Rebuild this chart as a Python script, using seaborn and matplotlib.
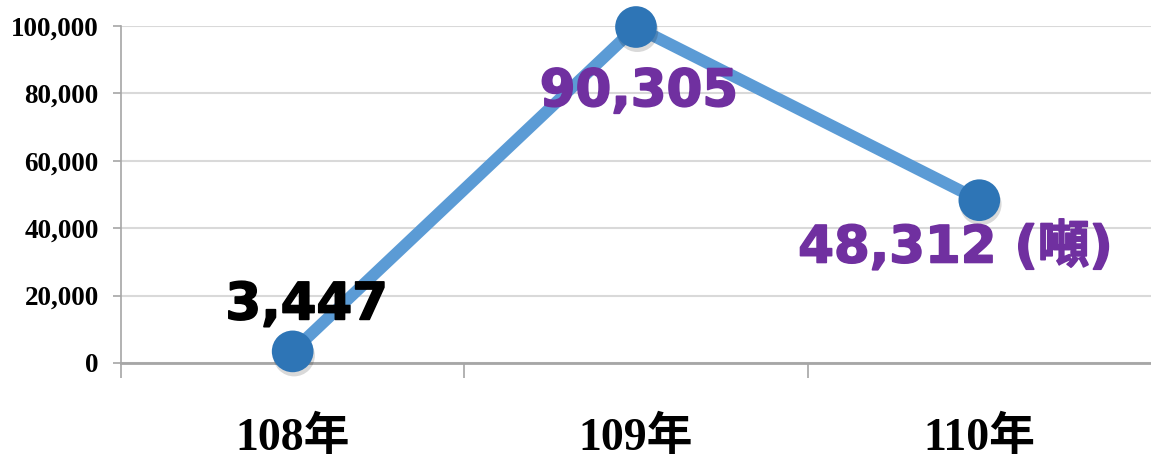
import matplotlib
matplotlib.use("Agg")
import matplotlib.pyplot as plt
import matplotlib.patheffects as pe
import pandas as pd
import seaborn as sns

# values as drawn in the picture (109 point sits near the top of the axis)
years = ["108年", "109年", "110年"]
tons = [3447, 99700, 48312]
labels = ["3,447", "90,305", "48,312 (噸)"]
label_colors = ["#000000", "#7030A0", "#7030A0"]
label_offsets = [(14, 46), (3, -65), (-24, -48)]  # pixels from point

yticks = [0, 20000, 40000, 60000, 80000, 100000]

df = pd.DataFrame({"year": years, "tons": tons})

sns.set_theme(style="white")
plt.rcParams["font.family"] = ["DejaVu Sans", "Noto Sans CJK TC"]

fig = plt.figure(figsize=(11.51, 4.59), dpi=100)
ax = fig.add_axes([121 / 1151, 1 - 363 / 459, 1 - 121 / 1151, 337 / 459])

sns.lineplot(data=df, x="year", y="tons", ax=ax, color="#5B9BD5",
             linewidth=8.6, solid_capstyle="butt", zorder=3)
pts = sns.scatterplot(data=df, x="year", y="tons", ax=ax, s=900,
                      color="#2E75B6", edgecolor="none", zorder=4, clip_on=False)
pts.collections[-1].set_path_effects(
    [pe.SimplePatchShadow(offset=(1, -3), shadow_rgbFace="#000000", alpha=0.15), pe.Normal()])

ax.set_xlim(-0.5, 2.5)
ax.set_ylim(0, 100000)
ax.set_xlabel("")
ax.set_ylabel("")

ax.set_yticks(yticks)
ax.set_yticklabels([f"{v:,}" for v in yticks], family=["Liberation Serif", "Noto Sans CJK TC"],
                   fontweight="bold", fontsize=19.5, color="#000000")
ax.tick_params(axis="y", direction="out", length=6, width=1.2, color="#A6A6A6", pad=10, left=True)

ax.set_xticks([0, 1, 2])
ax.set_xticklabels(years, family=["Liberation Serif", "Noto Sans CJK TC"],
                   fontweight="bold", fontsize=33, color="#000000")
ax.set_xticks([-0.5, 0.5, 1.5], minor=True)
ax.tick_params(axis="x", which="major", length=0, pad=39)
ax.tick_params(axis="x", which="minor", direction="out", length=11, width=1.2,
               color="#A6A6A6", bottom=True)

ax.grid(axis="y", color="#D9D9D9", linewidth=1.5)
ax.grid(axis="x", visible=False)
for side in ["top", "right"]:
    ax.spines[side].set_visible(False)
ax.spines["left"].set_color("#A6A6A6")
ax.spines["left"].set_linewidth(1.2)
ax.spines["bottom"].set_color("#A6A6A6")
ax.spines["bottom"].set_linewidth(2)
ax.set_axisbelow(True)

for i, (lab, col, off) in enumerate(zip(labels, label_colors, label_offsets)):
    ax.annotate(lab, (i, tons[i]), xytext=off, textcoords="offset pixels",
                ha="center", va="center", fontsize=37, fontweight="bold",
                color=col, family=["DejaVu Sans", "Noto Sans CJK TC"], zorder=5,
                annotation_clip=False,
                path_effects=[pe.withStroke(linewidth=1.2, foreground=col)])

fig.savefig("out.png", dpi=100)
